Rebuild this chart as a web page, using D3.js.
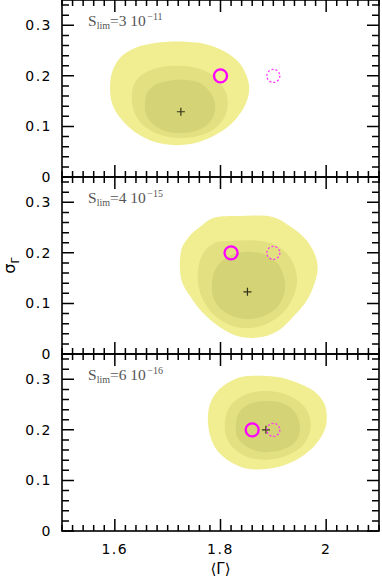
<!DOCTYPE html>
<html>
<head>
<meta charset="utf-8">
<script src="https://cdn.jsdelivr.net/npm/d3@7"></script>
<style>
  body { margin: 0; background: #fff; }
  svg { display: block; }
</style>
</head>
<body>
<svg id="chart"></svg>
<script>
// axis ticks and labels
const gammaTicks = [1.6, 1.8, 2.0];
const gammaTickLabels = ['1.6', '1.8', '2'];
const sigmaTicks = [0, 0.1, 0.2, 0.3];
const sigmaTickLabels = ['0', '0.1', '0.2', '0.3'];

// flux limit of each panel (S_lim = a 10^b)
const fluxMantissa = ['3', '4', '6'];
const fluxExponent = ['\u221211', '\u221215', '\u221216'];

// best fit (+), input values (solid circle) and reference (dashed circle)
const bestFit = [[1.725, 0.129], [1.851, 0.123], [1.886, 0.200]];
const inputPoint = [[1.80, 0.20], [1.82, 0.20], [1.86, 0.20]];
const refPoint = [[1.90, 0.20], [1.90, 0.20], [1.90, 0.20]];

// confidence regions as [<Gamma>, sigma] outlines
const outer1 = [[1.591,0.176],[1.595,0.208],[1.610,0.236],[1.638,0.255],[1.676,0.265],[1.723,0.268],[1.771,0.263],[1.808,0.248],[1.837,0.224],[1.852,0.192],[1.854,0.168],[1.846,0.141],[1.824,0.109],[1.790,0.083],[1.752,0.067],[1.714,0.063],[1.676,0.069],[1.638,0.089],[1.610,0.117],[1.595,0.145]];
const middle1 = [[1.632,0.158],[1.636,0.182],[1.651,0.202],[1.682,0.216],[1.719,0.220],[1.761,0.214],[1.791,0.196],[1.810,0.168],[1.814,0.145],[1.807,0.117],[1.788,0.095],[1.757,0.081],[1.719,0.077],[1.682,0.085],[1.651,0.105],[1.636,0.131]];
const inner1 = [[1.657,0.145],[1.661,0.166],[1.676,0.182],[1.701,0.190],[1.733,0.192],[1.761,0.186],[1.780,0.168],[1.790,0.141],[1.782,0.111],[1.759,0.093],[1.727,0.087],[1.695,0.091],[1.670,0.107],[1.659,0.125]];

const outer2 = [[1.723,0.176],[1.727,0.210],[1.742,0.234],[1.761,0.251],[1.786,0.269],[1.837,0.273],[1.899,0.271],[1.931,0.253],[1.962,0.226],[1.979,0.196],[1.984,0.170],[1.979,0.143],[1.964,0.107],[1.937,0.073],[1.912,0.048],[1.880,0.034],[1.837,0.034],[1.799,0.053],[1.765,0.083],[1.742,0.115],[1.727,0.143]];
const middle2 = [[1.757,0.147],[1.759,0.176],[1.769,0.202],[1.790,0.220],[1.827,0.224],[1.871,0.224],[1.903,0.216],[1.928,0.196],[1.941,0.170],[1.945,0.143],[1.937,0.111],[1.918,0.081],[1.886,0.059],[1.850,0.051],[1.814,0.059],[1.784,0.081],[1.765,0.111]];
const inner2 = [[1.784,0.133],[1.788,0.162],[1.803,0.184],[1.827,0.198],[1.856,0.202],[1.886,0.196],[1.909,0.178],[1.920,0.152],[1.922,0.127],[1.912,0.099],[1.890,0.079],[1.856,0.069],[1.822,0.075],[1.797,0.093],[1.786,0.113]];

const outer3 = [[1.776,0.222],[1.780,0.251],[1.793,0.275],[1.814,0.293],[1.841,0.305],[1.878,0.307],[1.916,0.303],[1.950,0.291],[1.979,0.275],[1.996,0.253],[2.001,0.230],[1.998,0.202],[1.984,0.176],[1.960,0.152],[1.928,0.133],[1.890,0.123],[1.852,0.123],[1.818,0.137],[1.793,0.160],[1.780,0.190]];
const middle3 = [[1.808,0.206],[1.812,0.234],[1.825,0.255],[1.850,0.271],[1.882,0.277],[1.916,0.273],[1.945,0.259],[1.964,0.238],[1.971,0.212],[1.965,0.184],[1.948,0.162],[1.920,0.147],[1.884,0.141],[1.850,0.147],[1.824,0.164],[1.812,0.184]];
const inner3 = [[1.829,0.206],[1.833,0.230],[1.846,0.246],[1.867,0.255],[1.890,0.257],[1.916,0.253],[1.937,0.240],[1.948,0.220],[1.950,0.198],[1.943,0.178],[1.924,0.164],[1.894,0.156],[1.863,0.160],[1.843,0.172],[1.831,0.188]];

const regions = [[outer1, middle1, inner1], [outer2, middle2, inner2], [outer3, middle3, inner3]];
const regionColors = ['#f0ee91', '#e2e081', '#d4d375'];

const width = 382, height = 582;
const left = 62, right = 379, panelH = 177;

const svg = d3.select('#chart')
    .attr('width', width)
    .attr('height', height)
    .style('font-family', '"DejaVu Sans", sans-serif');

const x = d3.scaleLinear().domain([1.5, 2.1]).range([left, right]);

const outline = d3.line()
    .x(d => x(d[0]))
    .curve(d3.curveCatmullRomClosed.alpha(0.5));

// minor ticks every 0.02, major ones longer
const xMinor = x.ticks(30);
const isMajorX = v => gammaTicks.some(t => Math.abs(t - v) < 1e-6);
const isMajorY = v => sigmaTicks.some(t => Math.abs(t - v) < 1e-6);

regions.forEach((levels, i) => {
    const y0 = i * panelH;
    const y1 = y0 + panelH;
    const y = d3.scaleLinear().domain([0, 0.35]).range([y1, y0]);
    const yMinor = y.ticks(17);
    outline.y(d => y(d[1]));

    const g = svg.append('g');

    // filled confidence regions, outer first
    g.selectAll('path.region')
        .data(levels)
        .enter().append('path')
        .attr('class', 'region')
        .attr('d', d => outline(d))
        .attr('fill', (d, k) => regionColors[k]);

    // best fit cross
    const bf = bestFit[i];
    g.append('path')
        .attr('d', `M${x(bf[0]) - 4},${y(bf[1])}h8M${x(bf[0])},${y(bf[1]) - 4}v8`)
        .attr('stroke', '#33331a')
        .attr('stroke-width', 1.2);

    // input value and reference
    g.append('circle')
        .attr('cx', x(inputPoint[i][0]))
        .attr('cy', y(inputPoint[i][1]))
        .attr('r', 6.5)
        .attr('fill', 'none')
        .attr('stroke', '#ff00ff')
        .attr('stroke-width', 2.3);
    g.append('circle')
        .attr('cx', x(refPoint[i][0]))
        .attr('cy', y(refPoint[i][1]))
        .attr('r', 6.5)
        .attr('fill', 'none')
        .attr('stroke', '#ff33ff')
        .attr('stroke-width', 1.3)
        .attr('stroke-dasharray', '2,2');

    // frame
    g.append('rect')
        .attr('x', left)
        .attr('y', y0)
        .attr('width', right - left)
        .attr('height', panelH)
        .attr('fill', 'none')
        .attr('stroke', '#000')
        .attr('stroke-width', 1.6);

    // ticks on all four sides, pointing inward, built as one path
    let d = '';
    xMinor.forEach(v => {
        const len = isMajorX(v) ? 12 : 6;
        d += `M${x(v)},${y1}v${-len}M${x(v)},${y0}v${len}`;
    });
    yMinor.forEach(v => {
        const len = isMajorY(v) ? 12 : 7;
        d += `M${left},${y(v)}h${len}M${right},${y(v)}h${-len}`;
    });
    g.append('path')
        .attr('d', d)
        .attr('fill', 'none')
        .attr('stroke', '#000')
        .attr('stroke-width', 1.5);

    // y tick labels
    g.selectAll('text.ylab')
        .data(sigmaTicks)
        .enter().append('text')
        .attr('class', 'ylab')
        .attr('x', 52)
        .attr('y', v => y(v))
        .attr('dy', '0.36em')
        .attr('text-anchor', 'end')
        .attr('font-size', 14)
        .attr('letter-spacing', 1.5)
        .text((v, k) => sigmaTickLabels[k]);

    // flux limit label
    const lab = g.append('text')
        .attr('x', 88)
        .attr('y', y0 + 25.5)
        .attr('fill', '#555')
        .style('font-family', '"Liberation Serif", serif')
        .attr('font-size', 15.5);
    lab.append('tspan').text('S');
    lab.append('tspan').attr('font-size', 10).attr('dy', 3).text('lim');
    lab.append('tspan').attr('dy', -3).text('=' + fluxMantissa[i] + ' 10');
    lab.append('tspan').attr('font-size', 10).attr('dy', -6).attr('dx', 1.5).text(fluxExponent[i]);
});

// x tick labels under the bottom panel
svg.selectAll('text.xlab')
    .data(gammaTicks)
    .enter().append('text')
    .attr('class', 'xlab')
    .attr('x', v => x(v))
    .attr('y', 3 * panelH + 18)
    .attr('dy', '0.36em')
    .attr('text-anchor', 'middle')
    .attr('font-size', 14)
    .attr('letter-spacing', 1.5)
    .text((v, k) => gammaTickLabels[k]);

// axis titles
svg.append('text')
    .attr('x', (left + right) / 2)
    .attr('y', 574)
    .attr('text-anchor', 'middle')
    .attr('font-size', 15)
    .text('\u27E8\u0393\u27E9');

const yt = svg.append('text')
    .attr('transform', `translate(15,${1.5 * panelH}) rotate(-90)`)
    .attr('text-anchor', 'middle')
    .attr('font-size', 16);
yt.append('tspan').text('\u03C3');
yt.append('tspan').attr('font-size', 11).attr('dy', 4).text('\u0393');
</script>
</body>
</html>
